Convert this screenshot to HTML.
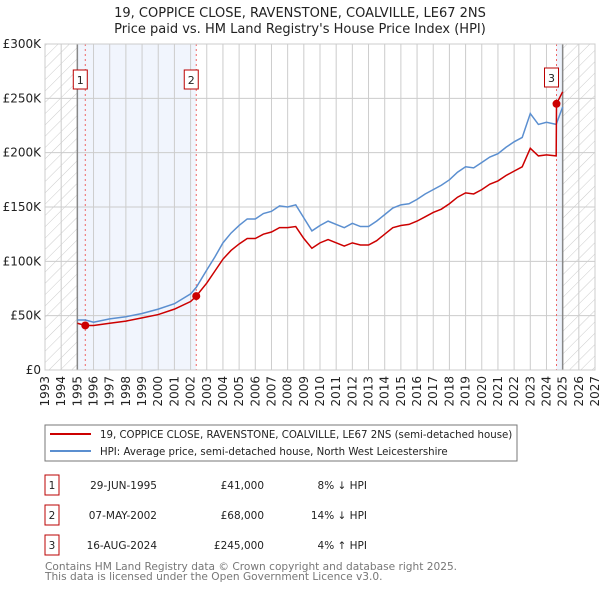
<!DOCTYPE html>
<html><head><meta charset="utf-8"><style>
body{margin:0;background:#fff;font-family:"DejaVu Sans","Liberation Sans",sans-serif;}
svg text{font-family:"DejaVu Sans","Liberation Sans",sans-serif;}
</style></head><body>
<svg id="c" width="600" height="590" xmlns="http://www.w3.org/2000/svg">
<defs><pattern id="h" width="8" height="8" patternUnits="userSpaceOnUse" patternTransform="rotate(45)"><line x1="0" y1="0" x2="0" y2="8" stroke="#ccc" stroke-width="1"/></pattern></defs>
<text x="300" y="17" text-anchor="middle" font-size="13" fill="#222">19, COPPICE CLOSE, RAVENSTONE, COALVILLE, LE67 2NS</text>
<text x="300" y="33" text-anchor="middle" font-size="13" fill="#222">Price paid vs. HM Land Registry's House Price Index (HPI)</text>
<g id="plot"></g>
<rect x="45" y="425" width="472" height="36" fill="#fff" stroke="#777"/>
<line x1="50" y1="434" x2="91" y2="434" stroke="#cc0000" stroke-width="2"/>
<text x="100" y="438" font-size="10.2" fill="#222">19, COPPICE CLOSE, RAVENSTONE, COALVILLE, LE67 2NS (semi-detached house)</text>
<line x1="50" y1="451" x2="91" y2="451" stroke="#5b8fd0" stroke-width="2"/>
<text x="100" y="455" font-size="10.2" fill="#222">HPI: Average price, semi-detached house, North West Leicestershire</text>
<g id="tbl" font-size="10.5" fill="#222"></g>
<text x="45" y="570" font-size="10.6" fill="#777">Contains HM Land Registry data © Crown copyright and database right 2025.</text>
<text x="45" y="580" font-size="10.6" fill="#777">This data is licensed under the Open Government Licence v3.0.</text>
</svg>
<script>
const hpiYears=[1995,1995.5,1996,1997,1998,1999,2000,2001,2002,2002.35,2003,2003.5,2004,2004.5,2005,2005.5,2006,2006.5,2007,2007.5,2008,2008.5,2009,2009.5,2010,2010.5,2011,2011.5,2012,2012.5,2013,2013.5,2014,2014.5,2015,2015.5,2016,2016.5,2017,2017.5,2018,2018.5,2019,2019.5,2020,2020.5,2021,2021.5,2022,2022.5,2023,2023.5,2024,2024.6,2025];
const hpiValues=[46,46,44,47,49,52,56,61,70,76,92,104,117,126,133,139,139,144,146,151,150,152,140,128,133,137,134,131,135,132,132,137,143,149,152,153,157,162,166,170,175,182,187,186,191,196,199,205,210,214,236,226,228,226,242];
const priceYears=[1995,1995.49,1996,1997,1998,1999,2000,2001,2002,2002.35,2003,2003.5,2004,2004.5,2005,2005.5,2006,2006.5,2007,2007.5,2008,2008.5,2009,2009.5,2010,2010.5,2011,2011.5,2012,2012.5,2013,2013.5,2014,2014.5,2015,2015.5,2016,2016.5,2017,2017.5,2018,2018.5,2019,2019.5,2020,2020.5,2021,2021.5,2022,2022.5,2023,2023.5,2024,2024.6,2024.62,2025];
const priceValues=[43,41,41,43,45,48,51,56,63,68,80,91,102,110,116,121,121,125,127,131,131,132,121,112,117,120,117,114,117,115,115,119,125,131,133,134,137,141,145,148,153,159,163,162,166,171,174,179,183,187,204,197,198,197,245,256];
const sales=[{n:"1",yr:1995.49,v:41,d:"29-JUN-1995",p:"£41,000",h:"8% ↓ HPI"},{n:"2",yr:2002.35,v:68,d:"07-MAY-2002",p:"£68,000",h:"14% ↓ HPI"},{n:"3",yr:2024.62,v:245,d:"16-AUG-2024",p:"£245,000",h:"4% ↑ HPI"}];
const yTicks=[0,50,100,150,200,250,300];
const yTickLabels=["£0","£50K","£100K","£150K","£200K","£250K","£300K"];
const NS="http://www.w3.org/2000/svg";
const L=45,R=595,T=44,B=370,X0=1993,X1=2027,YMAX=300;
const sx=y=>L+(y-X0)/(X1-X0)*(R-L), sy=v=>B-v/YMAX*(B-T);
const g=document.getElementById('plot');
function mk(t,a,p){const e=document.createElementNS(NS,t);for(const k in a)e.setAttribute(k,a[k]);(p||g).appendChild(e);return e;}
let e;
e=mk('rect',{x:L,y:T,width:R-L,height:B-T,fill:'#fff'});
e=mk('rect',{x:L,y:T,width:sx(1995)-L,height:B-T,fill:'url(#h)'});


e=mk('rect',{x:sx(2025),y:T,width:R-sx(2025),height:B-T,fill:'url(#h)'});


e=mk('rect',{x:sx(1995),y:T,width:sx(2002.35)-sx(1995),height:B-T,fill:'#eef3fc',opacity:0.8});


e=mk('rect',{x:sx(2024.62),y:T,width:sx(2025)-sx(2024.62),height:B-T,fill:'#eef3fc'});


for(let y=X0;y<=X1;y++){
 e=mk('line',{x1:sx(y),x2:sx(y),y1:T,y2:B,stroke:'#ccc'});
 
 
 const x=sx(y)+4;
 e=mk('text',{x:x,y:376,transform:`rotate(-90 ${x} 376)`,'text-anchor':'end','font-size':'12',fill:'#222'});
 e.textContent=y;
 
 
}
yTicks.forEach((v,i)=>{
 e=mk('line',{x1:L,x2:R,y1:sy(v),y2:sy(v),stroke:'#ccc'});
 
 
 e=mk('text',{x:41,y:sy(v)+4,'text-anchor':'end','font-size':'12',fill:'#222'});
 e.textContent=yTickLabels[i];
 
 
});
[1995,2025].forEach(y=>{e=mk('line',{x1:sx(y),x2:sx(y),y1:T,y2:B,stroke:'#888','stroke-width':1.5});
 
 });
sales.forEach(s=>{e=mk('line',{x1:sx(s.yr),x2:sx(s.yr),y1:T,y2:B,stroke:'#e66','stroke-dasharray':'2,3'});
 
 });
e=mk('polyline',{points:hpiYears.map((y,i)=>sx(y)+','+sy(hpiValues[i])).join(' '),fill:'none',stroke:'#5b8fd0','stroke-width':1.5});


e=mk('polyline',{points:priceYears.map((y,i)=>sx(y)+','+sy(priceValues[i])).join(' '),fill:'none',stroke:'#cc0000','stroke-width':1.5});


sales.forEach(s=>{
 e=mk('circle',{cx:sx(s.yr),cy:sy(s.v),r:4,fill:'#cc0000'});
 
 
 const bx=sx(s.yr)-11;
 e=mk('rect',{x:bx-1,y:s.n==='3'?68:70,width:14,height:19,fill:'#fff',stroke:'#b00'});
 
 
 e=mk('text',{x:bx+6,y:(s.n==='3'?68:70)+14,'text-anchor':'middle','font-size':'11',fill:'#222'});
 e.textContent=s.n;
 
 
});
e=mk('rect',{x:L,y:T,width:R-L,height:B-T,fill:'none',stroke:'#ccc'});
const tb=document.getElementById('tbl');
sales.forEach((s,i)=>{
 const y=475+i*30;
 e=mk('rect',{x:45,y:y,width:14,height:20,fill:'#fff',stroke:'#b00'},tb);
 
 
 [[52,s.n,'middle'],[157,s.d,'end'],[264,s.p,'end'],[367,s.h,'end']].forEach(c=>{
  e=mk('text',{x:c[0],y:y+14,'text-anchor':c[2]},tb);e.textContent=c[1];
  
  
 });
});
</script>
</body></html>
